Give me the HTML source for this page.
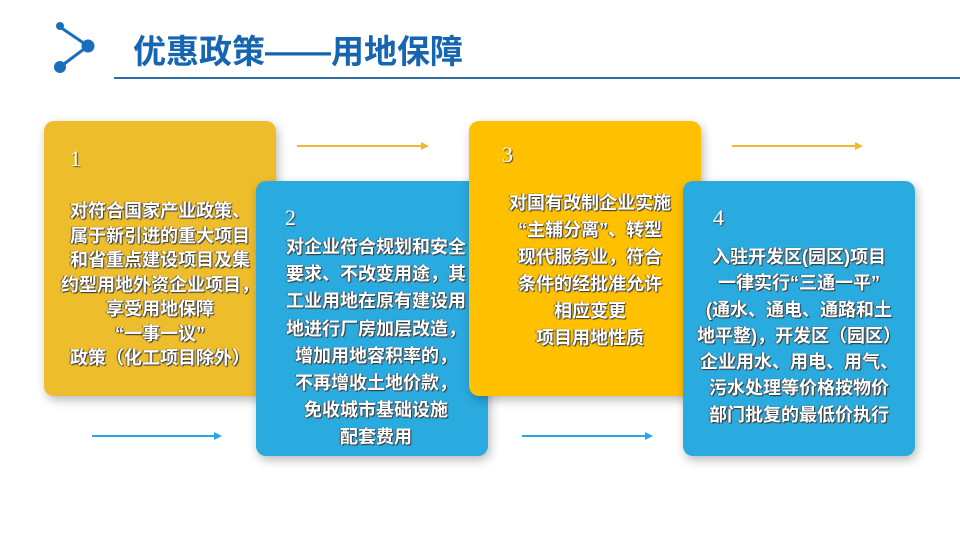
<!DOCTYPE html>
<html><head><meta charset="utf-8"><style>
body{margin:0;width:960px;height:540px;background:#fff;position:relative;overflow:hidden;font-family:"Liberation Sans","Noto Sans CJK SC",sans-serif}
.b{position:absolute;width:232px;height:275px;border-radius:10px;box-shadow:2px 4px 10px rgba(0,0,0,.28)}
.n{position:absolute;font-family:"Liberation Serif",serif;font-size:22px;color:#fff;text-shadow:1px 1px 1px #444}
.t{position:absolute;color:#fff;font-size:18px;font-weight:bold;text-align:center;white-space:nowrap;text-shadow:1px 1px 1px #333,-1px 0 1px #555;letter-spacing:0}
.a{position:absolute;height:1.5px}
.a:after{content:"";position:absolute;right:-2px;top:-3.5px;border-left:8px solid;border-left-color:inherit;border-top:4px solid transparent;border-bottom:4px solid transparent}
</style></head><body>
<svg style="position:absolute;left:0;top:0" width="120" height="80">
<line x1="60" y1="27" x2="88" y2="46" stroke="#1a6fbd" stroke-width="3"/>
<line x1="88" y1="46" x2="60" y2="67" stroke="#1a6fbd" stroke-width="3"/>
<circle cx="60" cy="26" r="4" fill="#1a6fbd"/><circle cx="88" cy="46" r="6.5" fill="#1a6fbd"/><circle cx="60" cy="67" r="6" fill="#1a6fbd"/>
</svg>
<div style="position:absolute;left:133px;top:25px;font-size:33px;font-weight:bold;color:#1565b0;letter-spacing:0">优惠政策——用地保障</div>
<div style="position:absolute;left:114px;top:77px;width:846px;height:2px;background:#2c6eaa"></div>

<div class="a" style="left:297px;top:145px;width:130px;background:#f0b830;border-color:#f0b830"></div>
<div class="a" style="left:732px;top:145px;width:129px;background:#f0b830;border-color:#f0b830"></div>
<div class="a" style="left:92px;top:435px;width:128px;background:#2aa6e0;border-color:#2aa6e0"></div>
<div class="a" style="left:522px;top:435px;width:129px;background:#2aa6e0;border-color:#2aa6e0"></div>

<div class="b" style="left:44px;top:121px;background:#eebd2b"></div>
<div class="n" style="left:70px;top:146px">1</div>
<div class="t" style="left:44px;top:199px;width:232px;line-height:24.5px">对符合国家产业政策、<br>属于新引进的重大项目<br>和省重点建设项目及集<br>约型用地外资企业项目，<br>享受用地保障<br>“一事一议”<br>政策（化工项目除外）</div>

<div class="b" style="left:256px;top:181px;background:#2aabe0"></div>
<div class="n" style="left:285px;top:205px">2</div>
<div class="t" style="left:276px;top:234px;width:200px;line-height:27.2px">对企业符合规划和安全<br>要求、不改变用途，其<br>工业用地在原有建设用<br>地进行厂房加层改造，<br>增加用地容积率的，<br>不再增收土地价款，<br>免收城市基础设施<br>配套费用</div>

<div class="b" style="left:469px;top:121px;background:#ffc000"></div>
<div class="n" style="left:502px;top:142px">3</div>
<div class="t" style="left:485px;top:190px;width:210px;line-height:27px">对国有改制企业实施<br>“主辅分离”、转型<br>现代服务业，符合<br>条件的经批准允许<br>相应变更<br>项目用地性质</div>

<div class="b" style="left:683px;top:181px;background:#2aabe0"></div>
<div class="n" style="left:713px;top:205px">4</div>
<div class="t" style="left:683px;top:244px;width:232px;line-height:26.3px">入驻开发区(园区)项目<br>一律实行“三通一平”<br>(通水、通电、通路和土<br>地平整)，开发区（园区）<br>企业用水、用电、用气、<br>污水处理等价格按物价<br>部门批复的最低价执行</div>
</body></html>
